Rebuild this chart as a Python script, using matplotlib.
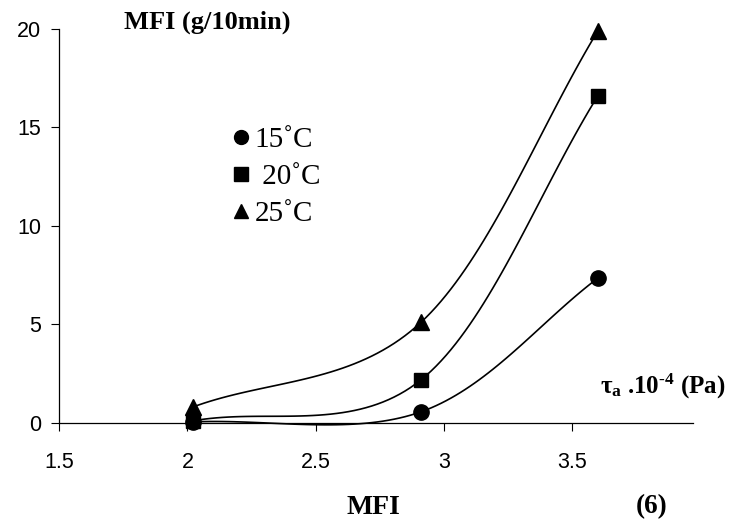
# MFI vs shear stress at three temperatures, smoothed curves like a spreadsheet chart
import numpy as np
import matplotlib.pyplot as plt
from matplotlib.lines import Line2D

plt.rcParams['mathtext.fontset'] = 'custom'
plt.rcParams['mathtext.rm'] = 'Liberation Serif:bold'
plt.rcParams['mathtext.bf'] = 'Liberation Serif:bold'
plt.rcParams['mathtext.it'] = 'Liberation Serif:bold'

tau = [2.02, 2.91, 3.60]
mfi_15 = [0.05, 0.56, 7.35]
mfi_20 = [0.10, 2.18, 16.6]
mfi_25 = [0.80, 5.10, 19.9]
labels = ['15\u02daC', ' 20\u02daC', '25\u02daC']
markers = ['o', 's', '^']


def smooth(x, y, n=40):
    # cubic bezier through the points; inner tangents from the neighbours,
    # end tangents from the single adjacent segment
    p = np.column_stack([x, y]).astype(float)
    last = len(p) - 1
    out = []
    for i in range(last):
        if i == 0:
            c1 = p[i] + (p[i + 1] - p[i]) / 3
        else:
            c1 = p[i] + (p[i + 1] - p[i - 1]) / 6
        if i + 1 == last:
            c2 = p[i + 1] - (p[i + 1] - p[i]) / 3
        else:
            c2 = p[i + 1] - (p[i + 2] - p[i]) / 6
        t = np.linspace(0, 1, n)[:, None]
        seg = ((1 - t) ** 3 * p[i] + 3 * (1 - t) ** 2 * t * c1
               + 3 * (1 - t) * t ** 2 * c2 + t ** 3 * p[i + 1])
        out.append(seg)
    s = np.vstack(out)
    return s[:, 0], s[:, 1]


fig = plt.figure(figsize=(7.3, 5.26), dpi=100)
ax = fig.add_axes([0.081, 0.196, 0.868, 0.749])

msz = {'o': 11, 's': 10.5, '^': 11.5}
for y, m in zip([mfi_15, mfi_20, mfi_25], markers):
    sx, sy = smooth(tau, y)
    ax.plot(sx, sy, color='black', lw=1.2, clip_on=False)
    ax.plot(tau, y, linestyle='none', marker=m, ms=msz[m], color='black', clip_on=False, zorder=3)

ax.set_xlim(1.5, 3.97)
ax.set_ylim(0, 20)
ax.set_xticks([1.5, 2, 2.5, 3, 3.5])
ax.set_xticklabels(['1.5', '2', '2.5', '3', '3.5'])
ax.set_yticks([0, 5, 10, 15, 20])
for s in ['top', 'right']:
    ax.spines[s].set_visible(False)
for s in ['left', 'bottom']:
    ax.spines[s].set_linewidth(0.9)
ax.tick_params(direction='out', length=6, width=0.8, labelsize=15.5)
ax.tick_params(axis='x', pad=15)
ax.tick_params(axis='y', pad=7)
for lab in ax.get_xticklabels() + ax.get_yticklabels():
    lab.set_family('Liberation Sans')

handles = [Line2D([], [], linestyle='none', marker=m, ms=msz[m] - 1, color='black') for m in markers]
ax.legend(handles, labels, loc='upper left', bbox_to_anchor=(0.299, 0.787),
          bbox_transform=fig.transFigure, frameon=False,
          handlelength=0.55, handletextpad=0.2, labelspacing=0.37, borderpad=0,
          prop={'family': 'Liberation Serif', 'size': 21})

serif_b = {'family': 'Liberation Serif', 'weight': 'bold'}
fig.text(0.284, 0.958, 'MFI (g/10min)', fontsize=19, ha='center', va='center', **serif_b)
fig.text(0.908, 0.266, r'$\tau_{a}$ .10$^{\text{-}4}$ (Pa)', fontsize=18,
         ha='center', va='center', **serif_b)
fig.text(0.512, 0.036, 'MFI', fontsize=20, ha='center', va='center', **serif_b)
fig.text(0.893, 0.036, '(6)', fontsize=19.5, ha='center', va='center', **serif_b)

fig.savefig('out.png', dpi=100)
